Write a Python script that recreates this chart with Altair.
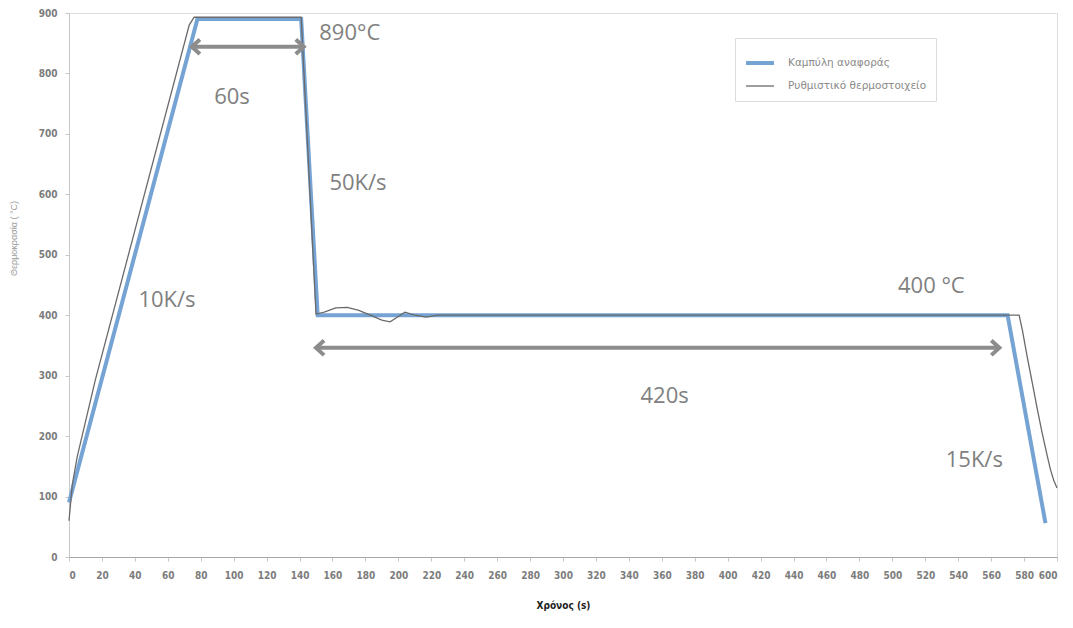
import altair as alt
import pandas as pd

# ---- data ----
series_names = ["Καμπύλη αναφοράς", "Ρυθμιστικό θερμοστοιχείο"]

ref_t = [0, 78, 141, 151, 570, 593]
ref_v = [90, 890, 890, 400, 400, 56]

tc_t = [0, 2, 5, 16, 73, 76, 141, 150, 155, 162, 169, 176, 183, 190, 195, 200, 204, 210, 217, 224, 240, 577, 579, 582, 585, 588, 591, 594, 596, 598, 600]
tc_v = [60, 120, 166, 293, 880, 893, 893, 402, 405, 412, 413, 408, 400, 392, 389, 398, 405, 400, 397, 400, 400, 400, 375, 330, 288, 245, 205, 168, 145, 127, 114]

x_ticks = list(range(0, 601, 20))
y_ticks = list(range(0, 901, 100))

ann_text = ["890°C", "60s", "50K/s", "10K/s", "400 °C", "420s", "15K/s"]
ann_t = [170.5, 99, 175.5, 59.5, 523.7, 361.7, 549.8]
ann_v = [867, 761, 619, 425, 449, 266, 160]

arrow_t1 = [74.6, 150]
arrow_t2 = [142.6, 565]
arrow_v = [844, 346]

# ---- tables ----
lines = pd.DataFrame(
    {"t": ref_t + tc_t,
     "v": ref_v + tc_v,
     "s": [series_names[0]] * len(ref_t) + [series_names[1]] * len(tc_t),
     "o": list(range(len(ref_t))) + list(range(len(tc_t)))}
)
ann = pd.DataFrame({"t": ann_t, "v": ann_v, "txt": ann_text})
arrows = pd.DataFrame({"t1": arrow_t1, "t2": arrow_t2, "v": arrow_v})

xs = alt.Scale(domain=[0, 600], nice=False, zero=False)
ys = alt.Scale(domain=[0, 900], nice=False)

LBL_FONT = "DejaVu Sans Condensed"

x_axis = alt.Axis(values=x_ticks, title="Χρόνος (s)", grid=False, labelOverlap=False,
                  labelFont=LBL_FONT, labelFontWeight="bold",
                  labelFontSize=10, labelColor="#7c7c7c", labelPadding=9,
                  tickSize=4, tickColor="#c8c8c8", domainColor="#a8a8a8",
                  titleFont=LBL_FONT, titleFontSize=10,
                  titleFontWeight="bold", titleColor="#222222", titlePadding=20)
y_axis = alt.Axis(values=y_ticks, title="Θερμοκρασία ( °C)", grid=False, labelOverlap=False,
                  labelFont=LBL_FONT, labelFontWeight="bold",
                  labelFontSize=10, labelColor="#7c7c7c", labelPadding=8,
                  tickSize=4, tickColor="#c8c8c8", domainColor="#c8c8c8",
                  titleFont="Liberation Sans", titleFontSize=9,
                  titleFontWeight="normal", titleColor="#9a9a9a", titlePadding=20,
                  titleY=225)

color = alt.Color("s:N", scale=alt.Scale(domain=series_names, range=["#74a3d4", "#6a6a6a"]),
                  sort=series_names, title=None,
                  legend=alt.Legend(orient="none", legendX=666, legendY=25,
                                    symbolType="stroke", symbolSize=784,
                                    symbolStrokeWidth=2,
                                    labelFont="DejaVu Sans", labelFontSize=10.5,
                                    labelColor="#8a8a8a", padding=9, rowPadding=-4,
                                    labelOffset=12,
                                    strokeColor="#dcdcdc", fillColor="#ffffff",
                                    labelLimit=300))
width = alt.StrokeWidth("s:N", scale=alt.Scale(domain=series_names, range=[4, 1.3]),
                        sort=series_names, title=None, legend=None)


def X(field):
    return alt.X(field, scale=xs, axis=x_axis)


def Y(field):
    return alt.Y(field, scale=ys, axis=y_axis)


line_layer = alt.Chart(lines).mark_line().encode(
    x=X("t:Q"),
    y=Y("v:Q"),
    color=color,
    strokeWidth=width,
    order="o:Q",
    detail="s:N",
)

rule_layer = alt.Chart(arrows).mark_rule(color="#8c8c8c", strokeWidth=4).encode(
    x=X("t1:Q"), x2="t2:Q", y=Y("v:Q")
)
left_head = alt.Chart(arrows).mark_point(
    shape="M 1 -0.9 L 0 0 L 1 0.9", filled=False, color="#8c8c8c",
    strokeWidth=4, size=260, opacity=1
).encode(x=X("t1:Q"), y=Y("v:Q"))
right_head = alt.Chart(arrows).mark_point(
    shape="M -1 -0.9 L 0 0 L -1 0.9", filled=False, color="#8c8c8c",
    strokeWidth=4, size=260, opacity=1
).encode(x=X("t2:Q"), y=Y("v:Q"))

text_layer = alt.Chart(ann).mark_text(
    font="Open Sans", fontSize=22, color="#808080", align="center", baseline="middle"
).encode(x=X("t:Q"), y=Y("v:Q"), text="txt:N")

chart = alt.layer(line_layer, rule_layer, left_head, right_head, text_layer).properties(
    width=988, height=544,
    autosize=alt.AutoSizeParams(type="none"),
    padding={"left": 61, "top": 5, "right": 8, "bottom": 64},
).configure_view(stroke="#e2e2e2", strokeWidth=1).configure(background="#ffffff")

chart.save("out.html", embed_options={"renderer": "svg", "actions": False})
